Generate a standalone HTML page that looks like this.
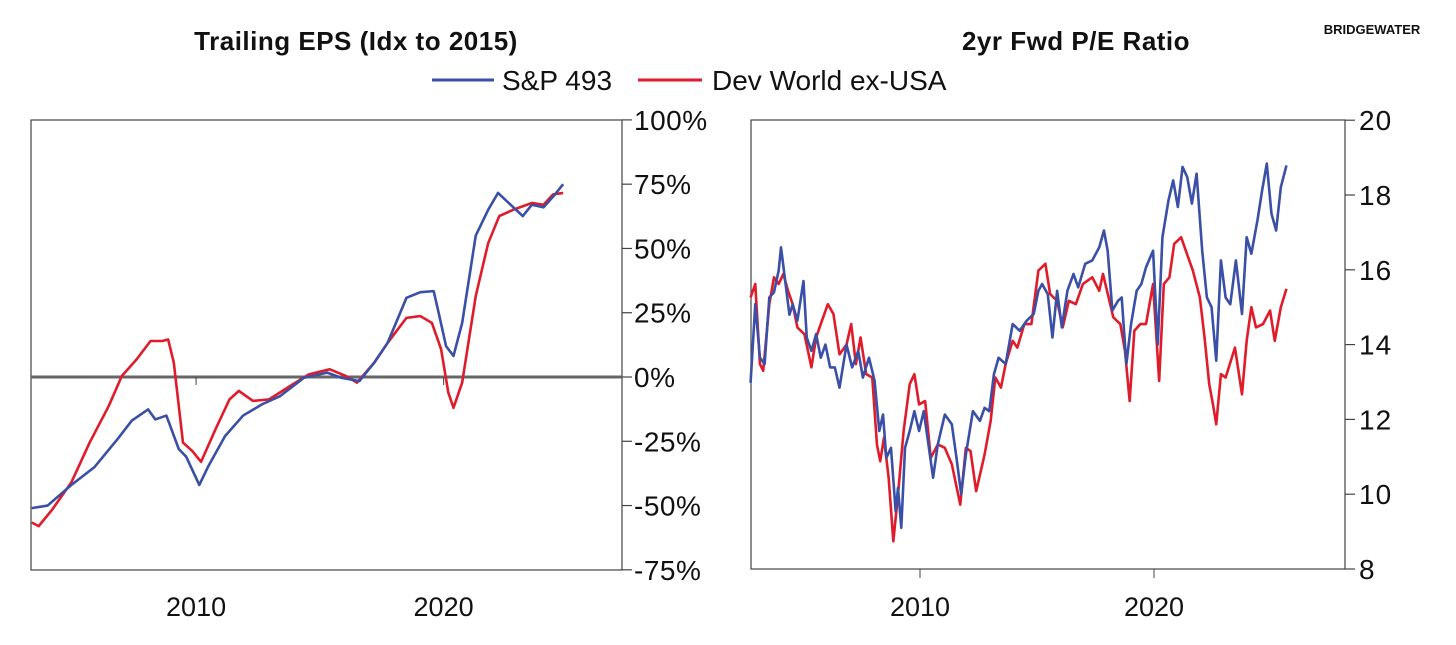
<!DOCTYPE html>
<html><head><meta charset="utf-8"><style>
body{margin:0;background:#fff;width:1456px;height:640px;overflow:hidden;font-family:"Liberation Sans",sans-serif}
svg text{font-family:"Liberation Sans",sans-serif;fill:#111}
</style></head><body>
<svg id="c" width="1456" height="640">
<text x="356" y="50" text-anchor="middle" font-size="26" font-weight="bold" letter-spacing="0.5">Trailing EPS (Idx to 2015)</text>
<text x="1076" y="50" text-anchor="middle" font-size="26" font-weight="bold" letter-spacing="0.5">2yr Fwd P/E Ratio</text>
<text x="1372" y="34" text-anchor="middle" font-size="13" font-weight="bold">BRIDGEWATER</text>
<g>
<g><line x1="432" y1="80" x2="494" y2="80" stroke="#3a4fa6" stroke-width="3"/><text x="502" y="90" font-size="28">S&amp;P 493</text></g>
<g><line x1="638" y1="80" x2="702" y2="80" stroke="#e01b2a" stroke-width="3"/><text x="712" y="90" font-size="28">Dev World ex-USA</text></g>
</g>
<g id="L"></g>
<g id="R"></g>
</svg>
<script>
const leftYears=[2003.36,2004.0,2004.96,2005.9,2006.84,2007.4,2008.06,2008.35,2008.8,2009.3,2009.6,2010.13,2010.5,2011.17,2011.9,2012.67,2013.4,2014.36,2015.3,2015.86,2016.6,2017.2,2017.74,2018.5,2019.06,2019.6,2019.8,2020.1,2020.4,2020.75,2021.3,2021.8,2022.2,2022.63,2023.2,2023.57,2024.04,2024.5,2024.83];
const leftBlue=[-51,-50,-42,-35,-24,-17,-12.6,-16.5,-15,-28,-31,-42,-34.6,-23,-15,-10.6,-7.4,-0.3,1.7,-0.3,-1.6,5.6,13.3,30.8,33,33.4,25,12,8.2,21,55,65,71.6,67.7,62.6,67,66,71,75];
const leftRedYears=[2003.36,2003.64,2004.2,2004.96,2005.7,2006.47,2007.0,2007.6,2008.16,2008.63,2008.87,2009.1,2009.47,2009.85,2010.2,2010.8,2011.35,2011.73,2012.3,2012.95,2013.8,2014.55,2015.4,2016.05,2016.5,2017.2,2017.74,2018.5,2019.06,2019.53,2019.9,2020.19,2020.4,2020.75,2021.3,2021.8,2022.25,2022.8,2023.57,2024.04,2024.42,2024.83];
const leftRed=[-56.6,-58,-51.4,-41,-25.5,-11.3,0.4,6.9,14,14,14.6,5.6,-25.5,-28.8,-33,-20,-8.7,-5.4,-9.3,-8.7,-3.5,1,3,0.4,-2.2,5.6,13.3,23,23.7,21,10.8,-6,-12,-2.2,31.5,52,62.6,65,67.7,67,71,71.6];
const leftTicks=[100,75,50,25,0,-25,-50,-75];
const xTickYears=[2010,2020];

const rightBlueX=[45,55,65,75,85,95,105,110,118,128,135,145,158,165,175,185,195,205,215,225,235,250,262,275,285,298,310,320,328,335,345,355,360,367,375,385,395,405,415,425,435,445,460,475,485,495,505,520,535,545,555,565,575,590,605,620,635,650,660,668,680,690,700,710,722,735,745,760,775,790,800,808,818,830,838,848,858,870,880,890,905,915,925,938,948,958,968,978,988,998,1010,1020,1030,1040,1050,1060,1070,1082,1095,1105,1115,1128,1138,1148,1158,1168,1178,1190];
const rightBlue=[12.98,15.08,13.65,13.48,15.26,15.4,15.98,16.6,15.8,14.8,15.08,14.64,15.7,14.19,13.83,14.28,13.65,14.0,13.39,13.39,12.85,14.0,13.39,13.83,13.12,13.65,13.03,11.69,12.13,10.97,11.24,9.54,10.17,9.1,11.24,11.69,12.22,11.69,12.22,11.33,10.44,11.33,12.13,11.87,10.97,10.0,11.06,12.22,11.96,12.31,12.22,13.21,13.65,13.48,14.55,14.37,14.64,14.82,15.44,15.62,15.35,14.19,15.44,14.46,15.44,15.89,15.53,16.16,16.25,16.6,17.05,16.51,14.91,15.17,15.26,13.48,14.55,15.44,15.62,16.07,16.51,14.0,16.87,17.86,18.39,17.68,18.75,18.48,17.77,18.57,16.51,15.26,15.0,13.57,16.25,15.26,15.08,16.25,14.82,16.87,16.43,17.32,18.12,18.84,17.5,17.05,18.21,18.79];
const rightRedX=[45,55,65,72,85,95,105,115,125,135,145,160,175,185,195,210,222,235,250,260,270,280,292,305,315,322,330,340,350,360,372,385,395,405,418,430,445,460,475,493,505,515,527,545,558,568,580,590,605,615,630,645,660,675,685,700,712,725,740,755,775,790,798,810,820,835,845,855,865,878,890,905,918,928,940,950,965,975,990,1005,1015,1025,1033,1040,1050,1060,1080,1095,1105,1115,1125,1140,1155,1165,1178,1190];
const rightRed=[15.26,15.62,13.48,13.3,15.08,15.8,15.62,15.89,15.44,15.08,14.46,14.28,13.39,14.19,14.55,15.08,14.82,13.74,14.0,14.55,13.48,14.19,13.21,13.12,11.33,10.88,11.51,10.44,8.74,9.99,11.69,12.94,13.21,12.4,12.49,10.97,11.33,11.24,10.8,9.72,11.24,11.15,10.08,11.06,11.96,13.12,12.85,13.48,14.1,13.92,14.55,14.55,15.98,16.16,15.35,15.17,14.46,15.17,15.08,15.62,15.8,15.44,15.89,15.26,14.73,14.55,13.83,12.49,14.37,14.55,14.55,15.62,13.03,15.62,15.8,16.69,16.87,16.51,15.98,15.26,14.19,12.94,12.4,11.87,13.21,13.12,13.92,12.67,14.1,15.0,14.46,14.55,14.91,14.1,15.0,15.49];
const rightTicks=[20,18,16,14,12,10,8];

const NS='http://www.w3.org/2000/svg';
function mk(p,tag,attrs){const e=document.createElementNS(NS,tag);for(const k in attrs)e.setAttribute(k,attrs[k]);p.appendChild(e);return e;}

// Left chart
const L=document.getElementById('L');
const lx=y=>31+(y-2003.33)*24.75, ly=v=>377-v*2.571;
let e=mk(L,'rect',{x:31,y:120,width:591,height:450,fill:'none',stroke:'#444','stroke-width':1.2});


leftTicks.forEach(t=>{
  const g=mk(L,'g',{});
  
  
  mk(g,'line',{x1:622,x2:632,y1:ly(t),y2:ly(t),stroke:'#444','stroke-width':1.2});
  const tx=mk(g,'text',{x:634,y:ly(t)+10,'font-size':28,'letter-spacing':'0.5'});tx.textContent=t+'%';
});
e=mk(L,'line',{x1:31,x2:622,y1:ly(0),y2:ly(0),stroke:'#666','stroke-width':3});


xTickYears.forEach(y=>{
  const g=mk(L,'g',{});
  
  
  mk(g,'line',{x1:lx(y),x2:lx(y),y1:ly(0),y2:ly(0)+8,stroke:'#444','stroke-width':1});
  const tx=mk(g,'text',{x:lx(y),y:616,'font-size':27,'text-anchor':'middle'});tx.textContent=y;
});
e=mk(L,'polyline',{points:leftRedYears.map((y,i)=>lx(y)+','+ly(leftRed[i])).join(' '),fill:'none',stroke:'#e01b2a','stroke-width':2.6,'stroke-linejoin':'round'});


e=mk(L,'polyline',{points:leftYears.map((y,i)=>lx(y)+','+ly(leftBlue[i])).join(' '),fill:'none',stroke:'#3a4fa6','stroke-width':2.6,'stroke-linejoin':'round'});



// Right chart
const R=document.getElementById('R');
const zx=x=>2010+(x-407)/50;
const rx=y=>920+(y-2010)*23.4, ry=v=>569-(v-8)*37.4;
e=mk(R,'rect',{x:751,y:120,width:594,height:449,fill:'none',stroke:'#444','stroke-width':1.2});


rightTicks.forEach(t=>{
  const g=mk(R,'g',{});
  
  
  mk(g,'line',{x1:1345,x2:1355,y1:ry(t),y2:ry(t),stroke:'#444','stroke-width':1.2});
  const tx=mk(g,'text',{x:1359,y:ry(t)+10,'font-size':28,'letter-spacing':'1'});tx.textContent=t;
});
xTickYears.forEach(y=>{
  const g=mk(R,'g',{});
  
  
  mk(g,'line',{x1:rx(y),x2:rx(y),y1:569,y2:578,stroke:'#444','stroke-width':1});
  const tx=mk(g,'text',{x:rx(y),y:616,'font-size':27,'text-anchor':'middle'});tx.textContent=y;
});
e=mk(R,'polyline',{points:rightRedX.map((x,i)=>rx(zx(x))+','+ry(rightRed[i])).join(' '),fill:'none',stroke:'#e01b2a','stroke-width':2.6,'stroke-linejoin':'round'});


e=mk(R,'polyline',{points:rightBlueX.map((x,i)=>rx(zx(x))+','+ry(rightBlue[i])).join(' '),fill:'none',stroke:'#3a4fa6','stroke-width':2.6,'stroke-linejoin':'round'});


</script>
</body></html>
